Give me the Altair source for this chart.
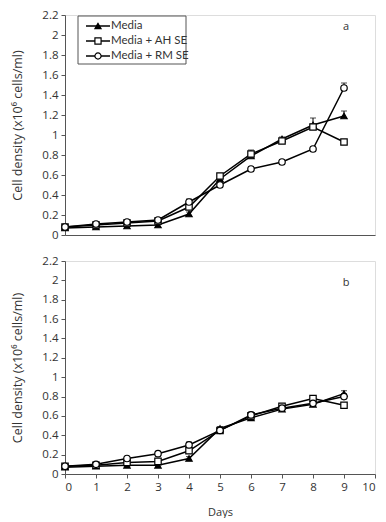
import altair as alt
import pandas as pd

days = [0, 1, 2, 3, 4, 5, 6, 7, 8, 9]
series_names = ["Media", "Media + AH SE", "Media + RM SE"]

# Panel a
a_media = [0.07, 0.08, 0.09, 0.10, 0.21, 0.56, 0.79, 0.96, 1.10, 1.19]
a_ah = [0.08, 0.10, 0.12, 0.14, 0.28, 0.59, 0.81, 0.94, 1.08, 0.93]
a_rm = [0.08, 0.11, 0.13, 0.15, 0.33, 0.50, 0.66, 0.73, 0.86, 1.47]
a_media_se = [0.01, 0.01, 0.01, 0.01, 0.02, 0.02, 0.03, 0.02, 0.07, 0.05]
a_ah_se = [0.01, 0.01, 0.01, 0.02, 0.02, 0.02, 0.04, 0.02, 0.03, 0.01]
a_rm_se = [0.01, 0.01, 0.01, 0.01, 0.03, 0.02, 0.02, 0.01, 0.01, 0.05]

# Panel b
b_media = [0.07, 0.08, 0.09, 0.09, 0.16, 0.47, 0.58, 0.67, 0.72, 0.83]
b_ah = [0.08, 0.09, 0.12, 0.13, 0.24, 0.45, 0.60, 0.70, 0.78, 0.71]
b_rm = [0.08, 0.10, 0.16, 0.21, 0.30, 0.45, 0.61, 0.68, 0.73, 0.80]
b_media_se = [0.01, 0.01, 0.01, 0.01, 0.02, 0.02, 0.02, 0.02, 0.02, 0.03]
b_ah_se = [0.01, 0.01, 0.01, 0.01, 0.02, 0.02, 0.02, 0.02, 0.02, 0.02]
b_rm_se = [0.01, 0.02, 0.01, 0.02, 0.03, 0.02, 0.03, 0.02, 0.02, 0.03]

y_ticks = [0, 0.2, 0.4, 0.6, 0.8, 1, 1.2, 1.4, 1.6, 1.8, 2, 2.2]
x_ticks = [0, 1, 2, 3, 4, 5, 6, 7, 8, 9, 10]

FONT = "Lato"
TFONT = "Open Sans"
TXT = "#333333"
FRAME = "#555555"


def make_df(vals, ses):
    rows = []
    for name, v, s in zip(series_names, vals, ses):
        for d, y, e in zip(days, v, s):
            rows.append({"day": d, "value": y, "hi": y + e, "series": name})
    return pd.DataFrame(rows)


df_a = make_df([a_media, a_ah, a_rm], [a_media_se, a_ah_se, a_rm_se])
df_b = make_df([b_media, b_ah, b_rm], [b_media_se, b_ah_se, b_rm_se])

shape_scale = alt.Scale(domain=series_names, range=["triangle-up", "square", "circle"])
fill_scale = alt.Scale(domain=series_names, range=["black", "white", "white"])
size_scale = alt.Scale(domain=series_names, range=[40, 42, 48])

y_title = "Cell density (x10\u2076 cells/ml)"


def panel(df, letter, letter_y, height, show_x, legend):
    if show_x:
        xaxis = alt.Axis(values=x_ticks, title="Days", format=".1~f", labelFont=TFONT,
                         labelFontSize=11.5, labelColor=TXT, titleFont=TFONT, titleFontSize=11,
                         titleFontWeight="normal", titleColor=TXT, tickColor=FRAME,
                         tickSize=4, domainColor=FRAME, grid=False, labelPadding=3,
                         labelOverlap=False, titlePadding=14)
    else:
        xaxis = alt.Axis(values=x_ticks, title=None, labels=False, ticks=False,
                         domainColor=FRAME, grid=False)
    yaxis = alt.Axis(values=y_ticks, title=y_title, format=".1~f", labelFont=TFONT,
                     labelFontSize=11.5, labelColor=TXT, titleFont=TFONT, titleFontSize=12.5,
                     titleFontWeight="normal", titleColor=TXT, tickColor=FRAME,
                     tickSize=4, domainColor=FRAME, grid=False, labelPadding=3,
                     labelOverlap=False, titlePadding=17)
    xs = alt.Scale(domain=[0, 10], nice=False)
    ys = alt.Scale(domain=[0, 2.2], nice=False)
    x = alt.X("day:Q", scale=xs, axis=xaxis, title=xaxis.title)
    y = alt.Y("value:Q", scale=ys, axis=yaxis, title=y_title)
    yhi = alt.Y("hi:Q", scale=ys, axis=yaxis, title=y_title)
    base = alt.Chart(df)
    lines = base.mark_line(color="black", strokeWidth=1.5).encode(
        x=x, y=y, detail="series:N")
    err = base.mark_rule(color="black", strokeWidth=1).encode(
        x=x, y=y, y2="hi:Q")
    cap = base.mark_tick(color="black", orient="horizontal", size=6, thickness=1).encode(
        x=x, y=yhi)
    pts = base.mark_point(filled=True, stroke="black", strokeWidth=1.2, opacity=1).encode(
        x=x, y=y,
        shape=alt.Shape("series:N", scale=shape_scale, legend=None),
        fill=alt.Fill("series:N", scale=fill_scale, legend=None),
        size=alt.Size("series:N", scale=size_scale, legend=None),
    )
    one = pd.DataFrame({"t": [letter]})
    lab = alt.Chart(one).mark_text(font=TFONT, fontSize=11, color=TXT).encode(
        text="t:N", x=alt.value(281), y=alt.value(letter_y))
    layers = [lines, err, cap, pts, lab]
    if legend:
        box = alt.Chart(one).mark_rect(fill="white", stroke=FRAME, strokeWidth=1).encode(
            x=alt.value(13), x2=alt.value(121), y=alt.value(1), y2=alt.value(49))
        layers.append(box)
        shapes = ["triangle-up", "square", "circle"]
        fills = ["black", "white", "white"]
        for i, name in enumerate(series_names):
            yy = 11 + 15 * i
            d = pd.DataFrame({"s": [name]})
            layers.append(alt.Chart(d).mark_rule(color="black", strokeWidth=1.5).encode(
                x=alt.value(21), x2=alt.value(45), y=alt.value(yy)))
            layers.append(alt.Chart(d).mark_point(
                shape=shapes[i], fill=fills[i], filled=True, stroke="black",
                strokeWidth=1.2, size=38, opacity=1).encode(
                x=alt.value(33), y=alt.value(yy)))
            layers.append(alt.Chart(d).mark_text(
                font=FONT, fontSize=11.5, color=TXT, align="left", baseline="middle").encode(
                text="s:N", x=alt.value(46), y=alt.value(yy)))
    return alt.layer(*layers).properties(width=310, height=height)


top = panel(df_a, "a", 12, 220, False, True)
bottom = panel(df_b, "b", 22, 213, True, False)

chart = alt.vconcat(top, bottom, spacing=26, bounds="flush").properties(
    padding={"left": 3, "top": 0, "right": 0, "bottom": 0},
).configure_view(stroke=FRAME, strokeWidth=1).configure(background="white")

chart.save("out.html", embed_options={"renderer": "svg", "actions": False})
